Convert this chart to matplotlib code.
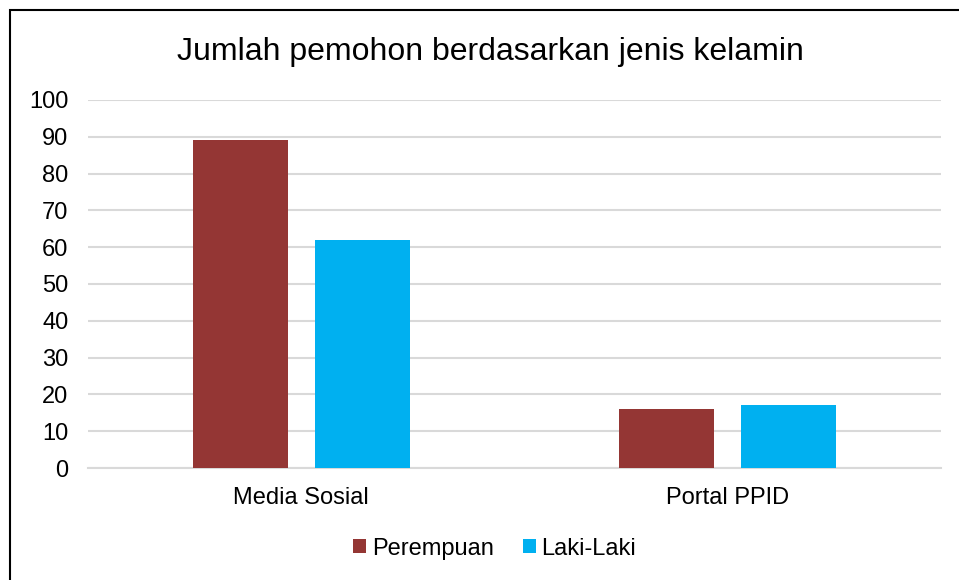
import matplotlib
matplotlib.use('Agg')
import matplotlib.pyplot as plt
import numpy as np
from matplotlib.patches import Rectangle

plt.rcParams['font.family'] = ['Liberation Sans', 'DejaVu Sans']

categories = ['Media Sosial', 'Portal PPID']
perempuan = [89, 16]
laki_laki = [62, 17]
series_names = ['Perempuan', 'Laki-Laki']
yticks = list(range(0, 101, 10))

red = '#943634'
blue = '#00B0F0'

fig = plt.figure(figsize=(9.59, 5.8), dpi=100)
ax = fig.add_axes([0.0918, 0.1931, 0.8894, 0.6345])

x = np.arange(len(categories))
w = 0.223
ax.bar(x - 0.143, perempuan, w, color=red, label=series_names[0], zorder=3)
ax.bar(x + 0.143, laki_laki, w, color=blue, label=series_names[1], zorder=3)

ax.set_xlim(-0.5, 1.5)
ax.set_ylim(0, 100)
ax.set_yticks(yticks)
ax.set_xticks(x)
ax.set_xticklabels(categories)
ax.tick_params(axis='both', length=0, labelsize=17, colors='black')
ax.tick_params(axis='y', pad=14)
ax.tick_params(axis='x', pad=14)
ax.grid(axis='y', color='#D9D9D9', linewidth=1.5, zorder=0)
for s in ['top', 'right', 'left']:
    ax.spines[s].set_visible(False)
ax.spines['bottom'].set_color('#D9D9D9')
ax.spines['bottom'].set_linewidth(1.5)

fig.text(0.5115, 0.91, 'Jumlah pemohon berdasarkan jenis kelamin',
         ha='center', va='center', fontsize=23)

fig.legend(loc='center', bbox_to_anchor=(0.516, 0.054), ncol=2, frameon=False,
           fontsize=17, handlelength=0.55, handleheight=0.55, handletextpad=0.25,
           columnspacing=1.2)

fig.patches.append(Rectangle((10 / 959, -0.1), 1.2, 1.1 - 10 / 580,
                             transform=fig.transFigure, fill=False,
                             edgecolor='black', linewidth=1.5))

fig.savefig('out.png', dpi=100)
